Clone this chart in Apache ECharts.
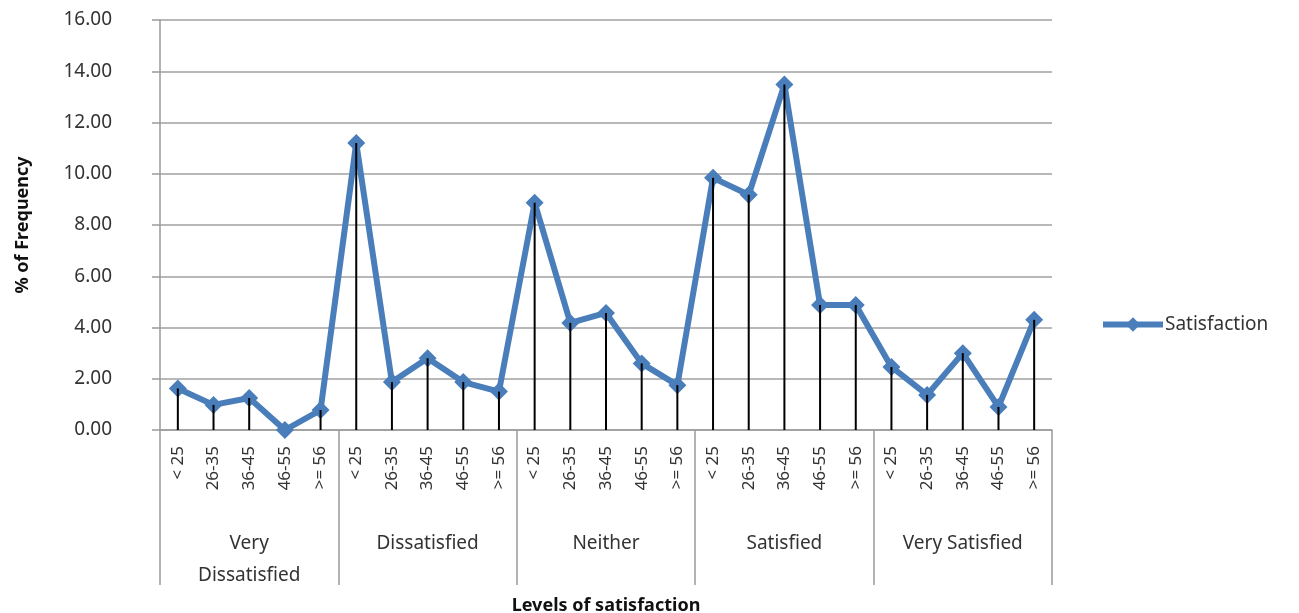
<!DOCTYPE html>
<html>
<head>
<meta charset="utf-8">
<script src="https://cdn.jsdelivr.net/npm/echarts@6/dist/echarts.min.js"></script>
<style>
  html, body { margin: 0; padding: 0; background: #fff; }
  #chart { width: 1299px; height: 613px; }
</style>
</head>
<body>
<div id="chart"></div>
<script>
// Age bands repeated within each satisfaction level
const ageBands = ['< 25', '26-35', '36-45', '46-55', '>= 56'];
const levels = ['Very\nDissatisfied', 'Dissatisfied', 'Neither', 'Satisfied', 'Very Satisfied'];

// % of frequency per age band, one array per level
const veryDissatisfied = [1.62, 0.98, 1.25, 0.00, 0.78];
const dissatisfied     = [11.20, 1.87, 2.80, 1.87, 1.50];
const neither          = [8.87, 4.18, 4.57, 2.60, 1.75];
const satisfied        = [9.84, 9.18, 13.48, 4.88, 4.88];
const verySatisfied    = [2.46, 1.37, 3.00, 0.90, 4.30];

const yTicks = [0, 2, 4, 6, 8, 10, 12, 14, 16];

const categories = [];
levels.forEach(() => ageBands.forEach(a => categories.push(a)));
const values = [].concat(veryDissatisfied, dissatisfied, neither, satisfied, verySatisfied);

const font = '"Noto Sans", "DejaVu Sans", sans-serif';
const chart = echarts.init(document.getElementById('chart'));

chart.setOption({
  animation: false,
  grid: { left: 160, right: 247, top: 20, bottom: 183, containLabel: false, outerBoundsMode: 'none' },
  legend: {
    data: [{ name: 'Satisfaction', lineStyle: { width: 6, color: '#4a7ebb' } }],
    left: 1095, top: 310,
    itemWidth: 60, itemHeight: 18, itemGap: 2,
    textStyle: { fontFamily: font, fontSize: 19, color: '#333', padding: [0, 0, 0, -3] }
  },
  xAxis: [
    {
      type: 'category',
      data: categories,
      boundaryGap: true,
      axisLine: { show: true, lineStyle: { color: '#9a9a9a', width: 1.5 } },
      axisTick: { show: false },
      axisLabel: {
        interval: 0, rotate: 90, margin: 16,
        fontFamily: font, fontSize: 17, color: '#333'
      }
    },
    {
      type: 'category',
      data: levels,
      position: 'bottom',
      boundaryGap: true,
      axisLine: { show: false },
      axisTick: { show: true, length: 155, inside: false, lineStyle: { color: '#9a9a9a', width: 1.5 } },
      axisLabel: {
        interval: 0, margin: 98, lineHeight: 32,
        fontFamily: font, fontSize: 19, color: '#333'
      },
      name: 'Levels of satisfaction',
      nameLocation: 'middle',
      nameGap: 165,
      nameTextStyle: { fontFamily: font, fontSize: 18, fontWeight: 'bold', color: '#111' }
    }
  ],
  yAxis: {
    type: 'value',
    min: 0, max: 16, interval: 2,
    axisLine: { show: true, lineStyle: { color: '#9a9a9a', width: 1.5 } },
    axisTick: { show: true, length: 8, lineStyle: { color: '#9a9a9a', width: 1.5 } },
    splitLine: { show: true, lineStyle: { color: '#a0a0a0', width: 1.5 } },
    axisLabel: {
      margin: 48, align: 'right',
      fontFamily: font, fontSize: 19, color: '#333',
      formatter: v => yTicks.includes(v) ? v.toFixed(2) : ''
    },
    name: '% of Frequency',
    nameLocation: 'middle',
    nameGap: 128,
    nameRotate: 90,
    nameTextStyle: { fontFamily: font, fontSize: 18, fontWeight: 'bold', color: '#111' }
  },
  series: [
    {
      name: 'Satisfaction',
      type: 'line',
      data: values,
      xAxisIndex: 0,
      symbol: 'diamond',
      symbolSize: 18,
      lineStyle: { color: '#4a7ebb', width: 6 },
      itemStyle: { color: '#4a7ebb' },
      z: 2
    },
    {
      name: 'drop',
      type: 'bar',
      data: values,
      xAxisIndex: 0,
      barWidth: 2,
      itemStyle: { color: '#000' },
      z: 3,
      silent: true
    }
  ]
});
</script>
</body>
</html>
